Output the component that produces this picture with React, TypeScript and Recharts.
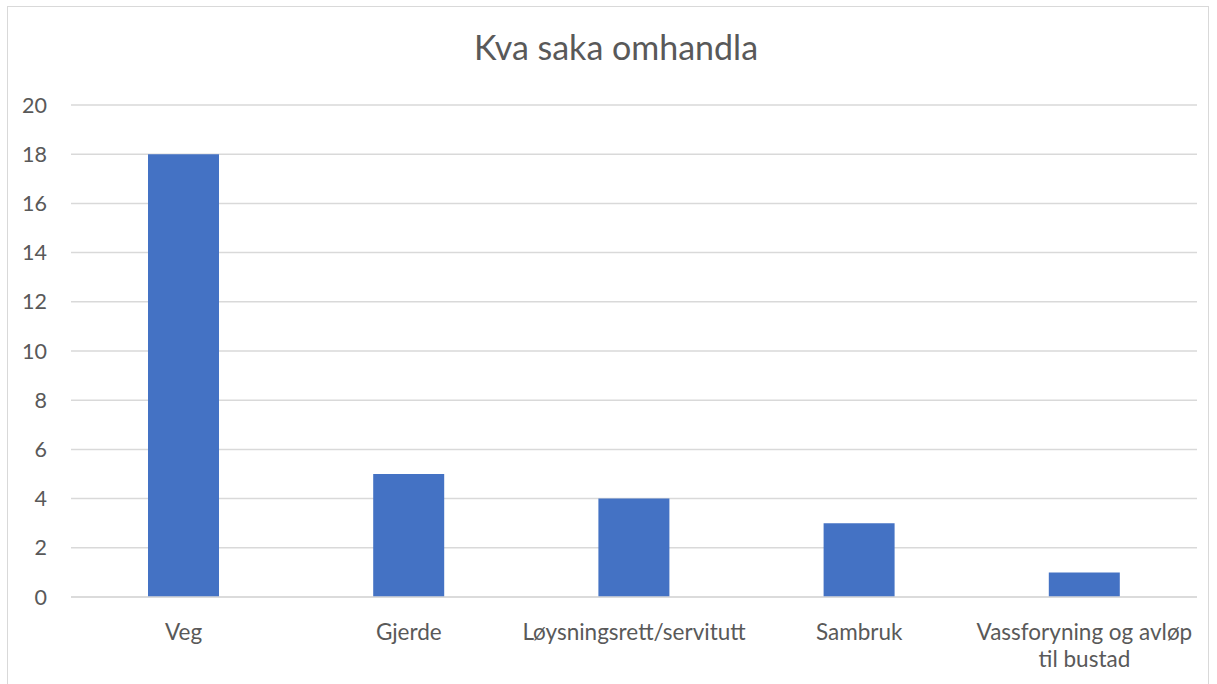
import React from "react";
import { BarChart, Bar, XAxis, YAxis, CartesianGrid } from "recharts";

const categories = ["Veg", "Gjerde", "Løysningsrett/servitutt", "Sambruk", "Vassforyning og avløp\ntil bustad"];
const counts = [18, 5, 4, 3, 1];
const yTicks = [0, 2, 4, 6, 8, 10, 12, 14, 16, 18, 20];
const title = "Kva saka omhandla";

const data = categories.map((c, i) => ({ name: c, value: counts[i] }));

const FONT = "Lato, 'Open Sans', sans-serif";
const TEXT = "#595959";

const XTick = (props: any) => {
  const { x, y, payload } = props;
  const lines = String(payload.value).split("\n");
  return (
    <g transform={`translate(${x},${y})`}>
      {lines.map((l: string, i: number) => (
        <text key={i} x={0} y={0} dy={41 + i * 27} textAnchor="middle" fill={TEXT} fontSize={22.5} fontFamily={FONT}>
          {l}
        </text>
      ))}
    </g>
  );
};

export default function App() {
  return (
    <div style={{ position: "absolute", left: 0, top: 0, width: 1217, height: 684, background: "#fff" }}>
      <div style={{ position: "absolute", left: 7, top: 6, width: 1202, height: 700, border: "1px solid #d9d9d9", boxSizing: "border-box" }} />
      <div style={{ position: "absolute", left: 0, top: 26, width: 1232, textAlign: "center", fontFamily: FONT, fontSize: 34, color: TEXT }}>
        {title}
      </div>
      <div style={{ position: "absolute", left: 0, top: 0 }}>
        <BarChart width={1217} height={684} data={data} margin={{ top: 105, right: 20, bottom: 57, left: 0 }}>
          <CartesianGrid vertical={false} stroke="#d9d9d9" strokeWidth={1.5} />
          <XAxis dataKey="name" tick={<XTick />} tickLine={false} axisLine={{ stroke: "#d9d9d9", strokeWidth: 1.5 }} interval={0} tickSize={0} height={30} />
          <YAxis width={71} domain={[0, 20]} ticks={yTicks} tickLine={false} axisLine={false} tickSize={0} tickMargin={24}
            tick={{ fill: TEXT, fontSize: 21.5, fontFamily: FONT }} />
          <Bar dataKey="value" fill="#4472C4" barSize={71} isAnimationActive={false} />
        </BarChart>
      </div>
    </div>
  );
}
